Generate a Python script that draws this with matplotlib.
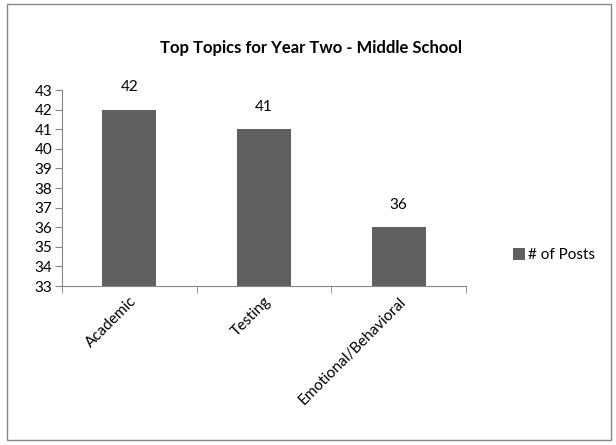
import matplotlib.pyplot as plt
from matplotlib.patches import Rectangle

topics = ['Academic', 'Testing', 'Emotional/Behavioral']
posts = [42, 41, 36]
series_name = '# of Posts'

plt.rcParams['font.family'] = ['Lato', 'DejaVu Sans']

fig = plt.figure(figsize=(6.16, 4.45), dpi=100)
ax = fig.add_axes([0.1006, 0.3573, 0.656, 0.4404])

bar_color = '#606060'
axis_color = '#868686'

x = list(range(len(topics)))
bars = ax.bar(x, posts, width=0.4, color=bar_color, label=series_name)

for xi, v in zip(x, posts):
    ax.annotate(str(v), (xi, v), xytext=(0, 11), textcoords='offset points',
                ha='center', va='bottom', fontsize=11)

ax.set_ylim(33, 43)
ax.set_yticks(range(33, 44))
ax.set_xlim(-0.5, len(topics) - 0.5)

ax.set_xticks(x)
ax.set_xticklabels(topics, rotation=45, ha='right', rotation_mode='anchor', fontsize=11)
ax.tick_params(axis='x', length=0, pad=6)
ax.set_xticks([i + 0.5 for i in range(-1, len(topics))], minor=True)
ax.tick_params(axis='x', which='minor', length=5, direction='out', color=axis_color)
ax.tick_params(axis='y', length=5, direction='out', color=axis_color, labelsize=11, pad=2)

for s in ['top', 'right']:
    ax.spines[s].set_visible(False)
for s in ['left', 'bottom']:
    ax.spines[s].set_color(axis_color)

fig.text(0.505, 0.893, 'Top Topics for Year Two - Middle School', ha='center', va='center',
         fontsize=12, fontweight='bold')

fig.legend(handles=[bars], labels=[series_name], loc='center left',
           bbox_to_anchor=(0.81, 0.427), frameon=False, fontsize=11,
           handlelength=0.8, handleheight=0.8, handletextpad=0.2)

fig.patches.append(Rectangle((0.012, 0.012), 0.98, 0.978, transform=fig.transFigure,
                             fill=False, edgecolor=axis_color, linewidth=1))

fig.savefig('out.png', dpi=100)
